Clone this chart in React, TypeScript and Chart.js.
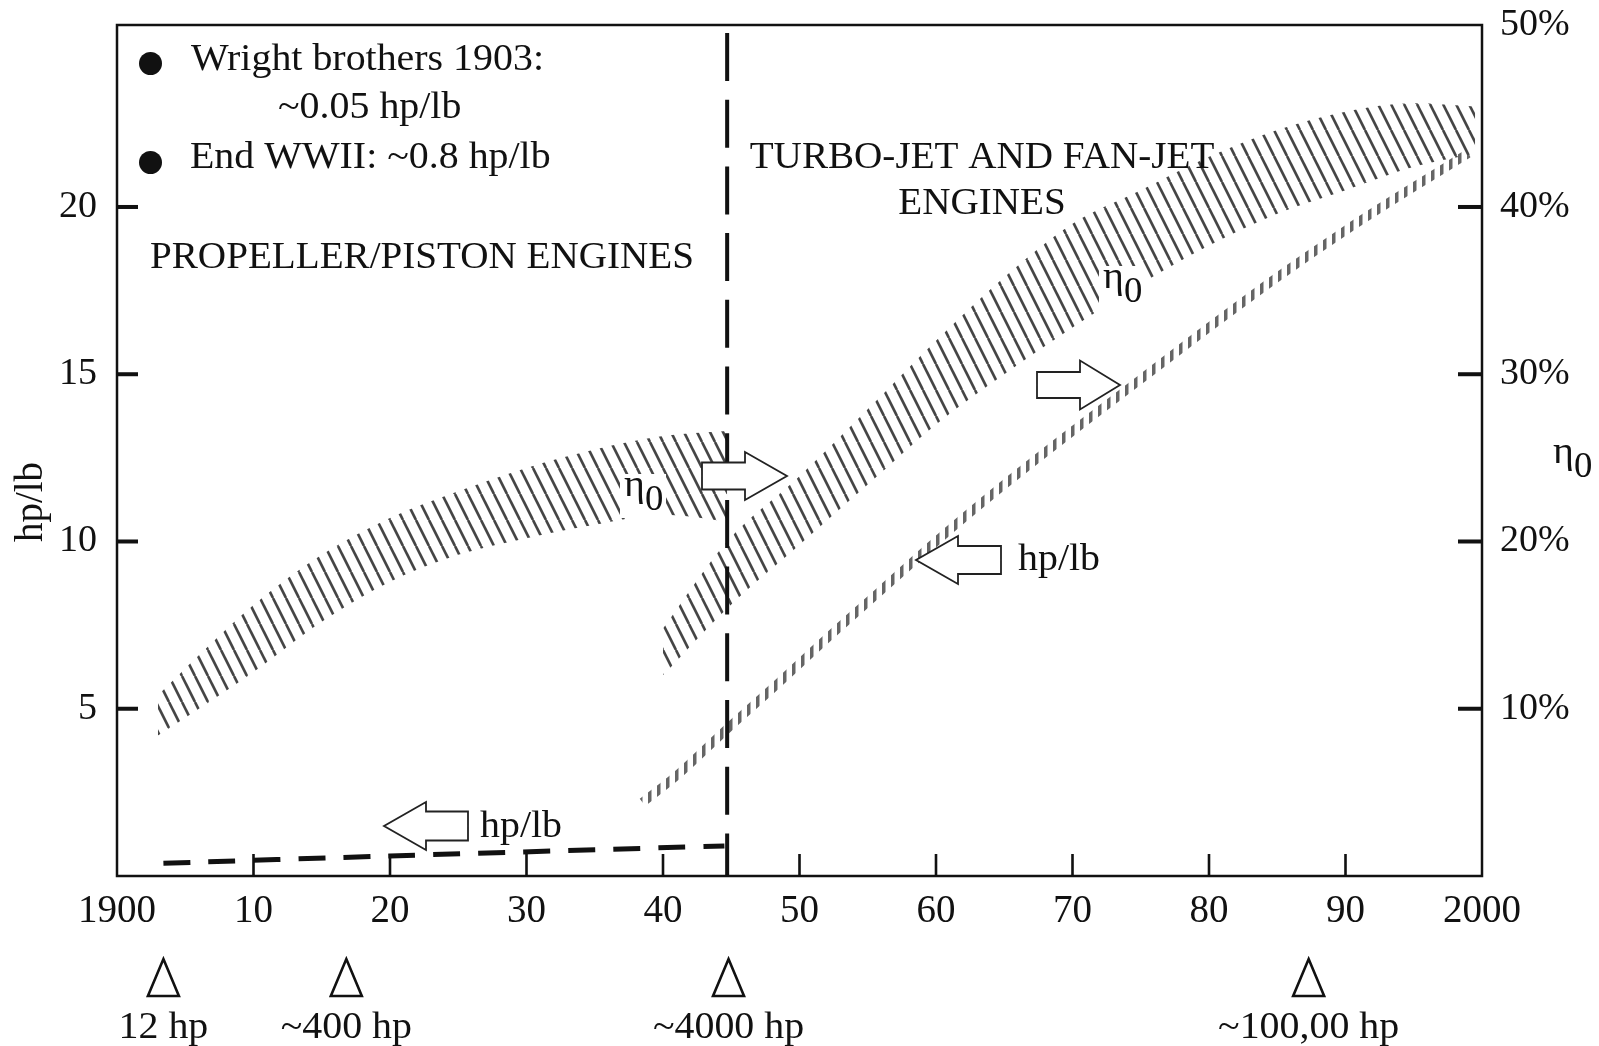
import React, { useEffect, useRef } from "react";
import { Chart, registerables } from "chart.js";

Chart.register(...registerables);

const FONT = "'Liberation Serif', 'Times New Roman', serif";

// ---- axis ticks ----
const xTickYears = [1900, 1910, 1920, 1930, 1940, 1950, 1960, 1970, 1980, 1990, 2000];
const xTickLabels = ["1900", "10", "20", "30", "40", "50", "60", "70", "80", "90", "2000"];
const leftTickValues = [5, 10, 15, 20];
const rightTickValues = [10, 20, 30, 40, 50];
const rightTickLabels = ["10%", "20%", "30%", "40%", "50%"];

// ---- propeller / piston era: efficiency band (percent) ----
const pistonYears = [1903, 1906, 1910, 1915, 1920, 1925, 1930, 1935, 1940, 1944.7];
const pistonEtaUpper = [10.8, 13.2, 16.2, 19.2, 21.4, 23.0, 24.4, 25.5, 26.3, 26.6];
const pistonEtaLower = [8.4, 10.0, 12.2, 15.2, 17.6, 19.2, 20.2, 21.0, 21.6, 21.2];

// ---- turbo-jet / fan-jet era: efficiency band (percent) ----
const jetYears = [1940, 1944.7, 1950, 1955, 1960, 1965, 1970, 1975, 1980, 1985, 1990, 1995, 1999.5];
const jetEtaUpper = [14.8, 20.0, 23.9, 27.9, 32.0, 35.8, 39.0, 41.0, 43.0, 44.6, 45.7, 46.2, 46.0];
const jetEtaLower = [12.0, 16.0, 19.8, 23.4, 27.0, 30.0, 32.8, 35.4, 37.7, 39.6, 41.0, 42.4, 43.2];

// ---- power-to-weight (hp/lb) ----
const jetHpYears = [1938.5, 1941, 1944.7, 1948, 1952, 1956, 1960, 1965, 1970, 1975, 1980, 1985, 1990, 1995, 1999];
const jetHpValues = [2.2, 3.0, 4.4, 5.6, 7.1, 8.55, 10.0, 11.7, 13.3, 14.85, 16.4, 17.9, 19.3, 20.6, 21.6];
const pistonHpYears = [1903.4, 1920, 1944.5];
const pistonHpValues = [0.38, 0.6, 0.9];

// ---- era divider & engine power markers ----
const dividerYear = 1944.7;
const markerYears = [1903.4, 1916.8, 1944.8, 1987.3];
const markerLabels = ["12 hp", "~400 hp", "~4000 hp", "~100,00 hp"];

const Y_MAX = 25.44;

function makeHatch(): CanvasPattern {
  const c = document.createElement("canvas");
  c.width = 13;
  c.height = 26;
  const g = c.getContext("2d")!;
  g.strokeStyle = "#454545";
  g.lineWidth = 2.6;
  for (const dx of [-13, 0, 13]) {
    g.beginPath();
    g.moveTo(dx, 0);
    g.lineTo(dx + 13, 26);
    g.stroke();
  }
  return g.createPattern(c, "repeat")!;
}

function makeStubs(): CanvasPattern {
  const c = document.createElement("canvas");
  c.width = 9;
  c.height = 4;
  const g = c.getContext("2d")!;
  g.fillStyle = "#656565";
  g.fillRect(0, 0, 3.5, 4);
  return g.createPattern(c, "repeat")!;
}

function txt(
  ctx: CanvasRenderingContext2D,
  s: string,
  x: number,
  y: number,
  size = 38,
  align: CanvasTextAlign = "left",
  sx = 1.05
) {
  ctx.save();
  ctx.font = `${size}px ${FONT}`;
  ctx.fillStyle = "#111";
  ctx.textBaseline = "alphabetic";
  ctx.textAlign = align;
  ctx.translate(x, y);
  ctx.scale(sx, 1);
  ctx.fillText(s, 0, 0);
  ctx.restore();
}

function arrow(ctx: CanvasRenderingContext2D, tailX: number, tipX: number, cy: number, bodyH = 27, headH = 48, headL = 42) {
  const dir = Math.sign(tipX - tailX);
  const baseX = tipX - dir * headL;
  ctx.save();
  ctx.beginPath();
  ctx.moveTo(tailX, cy - bodyH / 2);
  ctx.lineTo(baseX, cy - bodyH / 2);
  ctx.lineTo(baseX, cy - headH / 2);
  ctx.lineTo(tipX, cy);
  ctx.lineTo(baseX, cy + headH / 2);
  ctx.lineTo(baseX, cy + bodyH / 2);
  ctx.lineTo(tailX, cy + bodyH / 2);
  ctx.closePath();
  ctx.fillStyle = "#fff";
  ctx.fill();
  ctx.strokeStyle = "#222";
  ctx.lineWidth = 1.8;
  ctx.lineJoin = "miter";
  ctx.stroke();
  ctx.restore();
}

function eta(ctx: CanvasRenderingContext2D, x: number, y: number, box = false) {
  if (box) {
    ctx.save();
    ctx.fillStyle = "#fff";
    ctx.fillRect(x - 4, y - 22, 46, 44);
    ctx.restore();
  }
  txt(ctx, "η", x, y, 38, "left", 1.05);
  txt(ctx, "0", x + 21, y + 14, 35, "left", 1.05);
}

const decor = {
  id: "decor",
  afterDraw(chart: any) {
    const ctx: CanvasRenderingContext2D = chart.ctx;
    const { left, right, top, bottom } = chart.chartArea;
    const xs = chart.scales.x;
    const ys = chart.scales.y;
    const y2 = chart.scales.y2;

    ctx.save();
    // frame
    ctx.strokeStyle = "#111";
    ctx.lineWidth = 2.5;
    ctx.strokeRect(left, top, right - left, bottom - top);
    // inner tick marks
    ctx.fillStyle = "#111";
    for (const v of leftTickValues) {
      const py = ys.getPixelForValue(v);
      ctx.fillRect(left, py - 2, 21, 4);
    }
    for (const v of rightTickValues.slice(0, 4)) {
      const py = y2.getPixelForValue(v);
      ctx.fillRect(right - 24, py - 2, 24, 4);
    }
    for (const v of xTickYears.slice(1, -1)) {
      const px = xs.getPixelForValue(v);
      ctx.fillRect(px - 1.3, bottom - 22, 2.6, 22);
    }

    // arrows
    arrow(ctx, 702, 787, 476, 27, 48, 42);
    arrow(ctx, 1037, 1120, 385, 26, 49, 40);
    arrow(ctx, 1001, 916, 560, 28, 48, 42);
    arrow(ctx, 468, 384, 826, 29, 48, 42);
    txt(ctx, "hp/lb", 1018, 570);
    txt(ctx, "hp/lb", 480, 837);

    // eta labels in the bands
    eta(ctx, 624, 496, true);
    eta(ctx, 1103, 288, true);

    // notes
    ctx.fillStyle = "#111";
    ctx.beginPath();
    ctx.arc(150.5, 63.5, 11.5, 0, Math.PI * 2);
    ctx.fill();
    ctx.beginPath();
    ctx.arc(150.5, 162.5, 11.5, 0, Math.PI * 2);
    ctx.fill();
    txt(ctx, "Wright brothers 1903:", 191, 70);
    txt(ctx, "~0.05 hp/lb", 278, 118);
    txt(ctx, "End WWII: ~0.8 hp/lb", 190, 168);
    txt(ctx, "PROPELLER/PISTON ENGINES", 150, 268, 38, "left", 1.03);
    txt(ctx, "TURBO-JET AND FAN-JET", 982, 168, 38, "center", 1.03);
    txt(ctx, "ENGINES", 982, 214, 38, "center", 1.03);

    // engine power markers below axis
    markerYears.forEach((yr, i) => {
      const px = xs.getPixelForValue(yr);
      ctx.beginPath();
      ctx.moveTo(px, 959);
      ctx.lineTo(px + 15.5, 996);
      ctx.lineTo(px - 15.5, 996);
      ctx.closePath();
      ctx.strokeStyle = "#111";
      ctx.lineWidth = 2.6;
      ctx.stroke();
      txt(ctx, markerLabels[i], px, 1038, 38, "center");
    });

    // axis titles
    ctx.save();
    ctx.translate(32, 502);
    ctx.rotate(-Math.PI / 2);
    ctx.font = `39px ${FONT}`;
    ctx.fillStyle = "#111";
    ctx.textAlign = "center";
    ctx.textBaseline = "middle";
    ctx.fillText("hp/lb", 0, 0);
    ctx.restore();
    eta(ctx, 1553, 463, false);

    ctx.restore();
  },
};

export default function App() {
  const ref = useRef<HTMLCanvasElement>(null);

  useEffect(() => {
    const canvas = ref.current!;
    const hatch = makeHatch();
    const stubs = makeStubs();
    const pts = (xs: number[], ys: number[]) => xs.map((x, i) => ({ x, y: ys[i] }));
    const none = "rgba(0,0,0,0)";

    const chart = new Chart(canvas, {
      type: "line",
      data: {
        datasets: [
          {
            label: "η0 piston (upper)",
            data: pts(pistonYears, pistonEtaUpper),
            yAxisID: "y2",
            borderColor: none,
            borderWidth: 0,
            pointRadius: 0,
            cubicInterpolationMode: "monotone",
            fill: "+1",
            backgroundColor: hatch,
          },
          {
            label: "η0 piston (lower)",
            data: pts(pistonYears, pistonEtaLower),
            yAxisID: "y2",
            borderColor: none,
            borderWidth: 0,
            pointRadius: 0,
            cubicInterpolationMode: "monotone",
            fill: false,
          },
          {
            label: "η0 jet (upper)",
            data: pts(jetYears, jetEtaUpper),
            yAxisID: "y2",
            borderColor: none,
            borderWidth: 0,
            pointRadius: 0,
            cubicInterpolationMode: "monotone",
            fill: "+1",
            backgroundColor: hatch,
          },
          {
            label: "η0 jet (lower)",
            data: pts(jetYears, jetEtaLower),
            yAxisID: "y2",
            borderColor: none,
            borderWidth: 0,
            pointRadius: 0,
            cubicInterpolationMode: "monotone",
            fill: false,
          },
          {
            label: "hp/lb jet",
            data: pts(jetHpYears, jetHpValues),
            yAxisID: "y",
            borderColor: stubs as any,
            borderWidth: 9,
            borderCapStyle: "butt",
            pointRadius: 0,
            cubicInterpolationMode: "monotone",
            fill: false,
          },
          {
            label: "hp/lb piston",
            data: pts(pistonHpYears, pistonHpValues),
            yAxisID: "y",
            borderColor: "#111",
            borderWidth: 5,
            borderDash: [27, 18],
            borderCapStyle: "butt",
            pointRadius: 0,
            tension: 0.3,
            fill: false,
          },
          {
            label: "divider",
            data: [
              { x: dividerYear, y: Y_MAX },
              { x: dividerYear, y: 0 },
            ],
            yAxisID: "y",
            borderColor: "#111",
            borderWidth: 4,
            borderDash: [48, 18.7],
            borderDashOffset: 58.7,
            pointRadius: 0,
            fill: false,
            order: -1,
          },
        ],
      },
      options: {
        responsive: false,
        animation: false,
        events: [],
        layout: { padding: { top: 25, left: 0, right: 0, bottom: 0 } },
        plugins: {
          legend: { display: false },
          tooltip: { enabled: false },
          title: { display: false },
        },
        scales: {
          x: {
            type: "linear",
            position: "bottom",
            min: 1900,
            max: 2000,
            afterBuildTicks: (s: any) => {
              s.ticks = xTickYears.map((v) => ({ value: v }));
            },
            afterFit: (s: any) => {
              s.height = 170;
              s.paddingLeft = 0;
              s.paddingRight = 0;
            },
            grid: { display: false, drawTicks: false },
            border: { display: false },
            ticks: {
              autoSkip: false,
              maxRotation: 0,
              minRotation: 0,
              padding: 12,
              color: "#111",
              font: { family: FONT, size: 39 },
              callback: (v: any) => {
                const i = xTickYears.indexOf(Number(v));
                return i >= 0 ? xTickLabels[i] : "";
              },
            },
          },
          y: {
            type: "linear",
            position: "left",
            min: 0,
            max: Y_MAX,
            afterBuildTicks: (s: any) => {
              s.ticks = leftTickValues.map((v) => ({ value: v }));
            },
            afterFit: (s: any) => {
              s.width = 117;
              s.paddingTop = 0;
              s.paddingBottom = 0;
            },
            grid: { display: false, drawTicks: false },
            border: { display: false },
            ticks: {
              padding: 20,
              color: "#111",
              font: { family: FONT, size: 38 },
              callback: (v: any) => String(v),
            },
          },
          y2: {
            type: "linear",
            position: "right",
            min: 0,
            max: Y_MAX * 2,
            afterBuildTicks: (s: any) => {
              s.ticks = rightTickValues.map((v) => ({ value: v === 50 ? Y_MAX * 2 : v }));
            },
            afterFit: (s: any) => {
              s.width = 117;
              s.paddingTop = 0;
              s.paddingBottom = 0;
            },
            grid: { display: false, drawTicks: false },
            border: { display: false },
            ticks: {
              padding: 18,
              color: "#111",
              font: { family: FONT, size: 38 },
              callback: (_v: any, i: number) => rightTickLabels[i],
            },
          },
        },
      },
      plugins: [decor],
    } as any);

    return () => chart.destroy();
  }, []);

  return (
    <div style={{ position: "absolute", left: 0, top: 0, width: 1599, height: 1046, background: "#fff" }}>
      <canvas ref={ref} width={1599} height={1046} style={{ display: "block", width: 1599, height: 1046 }} />
    </div>
  );
}
